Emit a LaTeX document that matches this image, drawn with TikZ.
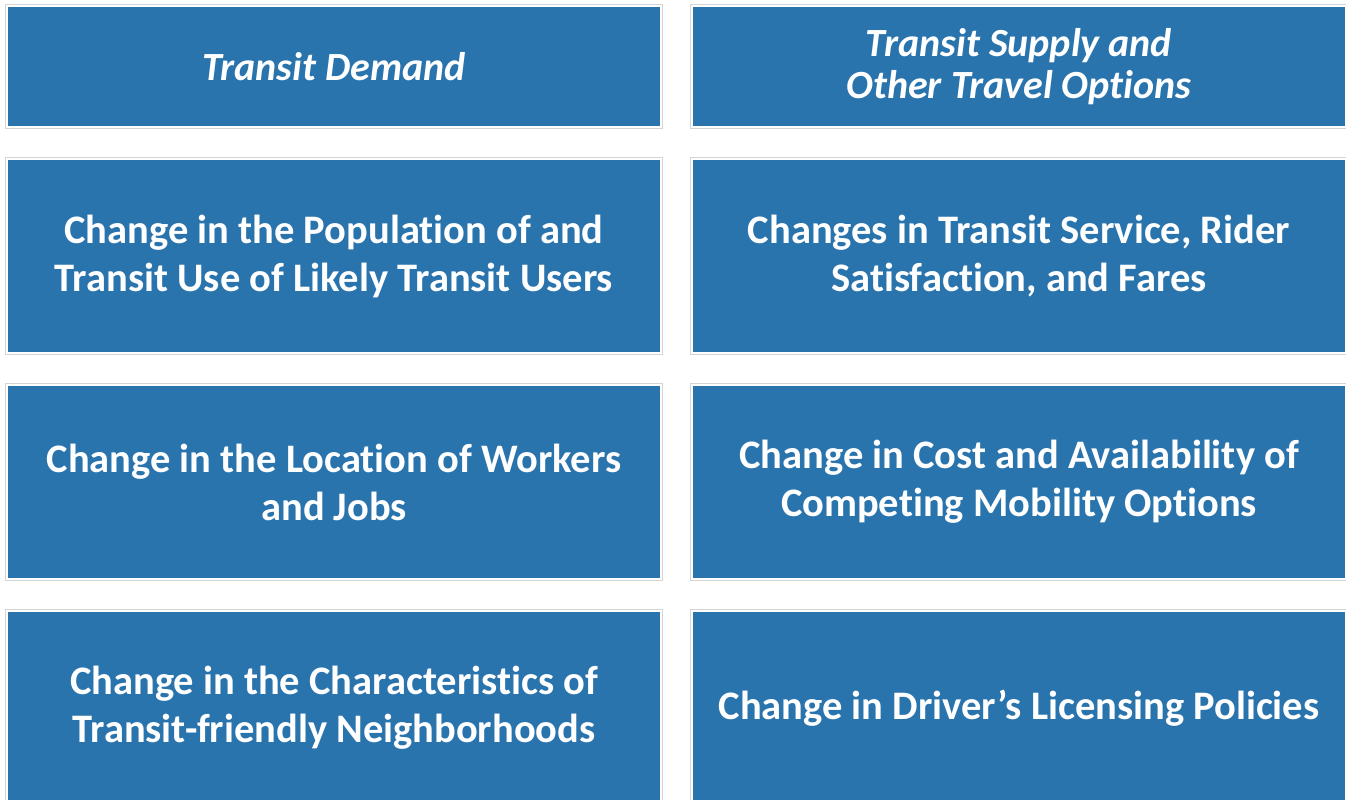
\documentclass[tikz,border=0pt]{standalone}
\usepackage{fontspec}
\setmainfont{Carlito}[Ligatures=NoCommon]
\definecolor{panelblue}{RGB}{42,116,174}
\definecolor{panelrim}{RGB}{212,212,212}
\tikzset{
    panel/.style={rectangle, fill=panelblue, draw=white, line width=2pt,
        preaction={draw=panelrim, line width=4.5pt},
        minimum width=654pt, inner sep=0pt, align=center, text=white,
        font=\bfseries\fontsize{40.5}{48}\selectfont},
    headpanel/.style={panel, minimum height=121pt,
        font=\bfseries\itshape\fontsize{40}{42}\selectfont},
    rowpanel/.style={panel, minimum height=194pt}
}
\begin{document}
\begin{tikzpicture}[x=1pt,y=-1pt]
        \clip (0,0) rectangle (1346,800);
        \fill[white] (0,0) rectangle (1346,800);
        % column heads
        \node[headpanel] (demand) at (334,66.5) {Transit Demand};
        \node[headpanel] (supply) at (1019,66.5) {Transit Supply and\\Other Travel Options};
        % demand side
        \node[rowpanel] (population) at (334,256) {Change in the Population of and\\Transit Use of Likely Transit Users};
        \node[rowpanel] (location) at (334,482) {Change in the Location of Workers\\and Jobs};
        \node[rowpanel] (neighborhoods) at (334,708) {Change in the Characteristics of\\Transit-friendly Neighborhoods};
        % supply side
        \node[rowpanel] (service) at (1019,256) {Changes in Transit Service, Rider\\Satisfaction, and Fares};
        \node[rowpanel] (mobility) at (1019,482) {Change in Cost and Availability of\\Competing Mobility Options};
        \node[rowpanel] (licensing) at (1019,708) {Change in Driver’s Licensing Policies};
    \end{tikzpicture}
\end{document}
